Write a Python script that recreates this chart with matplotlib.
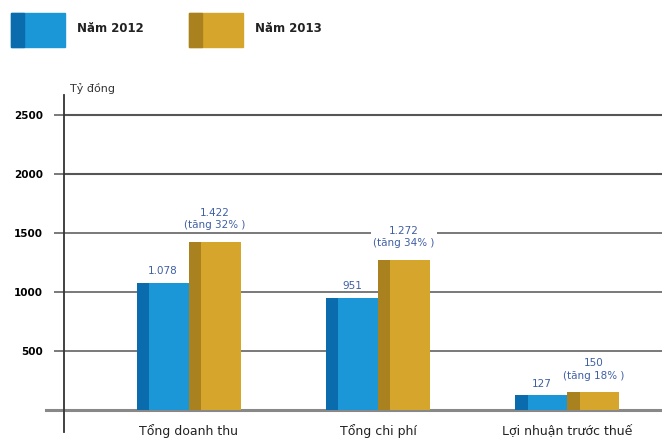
import matplotlib.pyplot as plt

# data
categories = ["Tổng doanh thu", "Tổng chi phí", "Lợi nhuận trước thuế"]
v2012 = [1078, 951, 127]
v2013 = [1422, 1272, 150]
lab2012 = ["1.078", "951", "127"]
lab2013 = ["1.422\n(tăng 32% )", "1.272\n(tăng 34% )", "150\n(tăng 18% )"]
yticks = [500, 1000, 1500, 2000, 2500]

blue, blue_dark = "#1b96d6", "#0b6cad"
gold, gold_dark = "#d6a52c", "#a9821f"
lab_col = "#3f5fa3"

plt.rcParams['font.family'] = ['DejaVu Sans']

fig = plt.figure(figsize=(6.62, 4.40), dpi=100)
W, H = 662, 440
ax = fig.add_axes([64 / W, 1 - 432 / H, (662 - 64) / W, (432 - 95) / H])

x = [0, 1, 2]
w = 0.275
stripe = 0.065
xa = [i - w / 2 for i in x]
xb = [i + w / 2 for i in x]
ax.bar(xa, v2012, width=w, color=blue, zorder=3)
ax.bar([p - w / 2 + stripe / 2 for p in xa], v2012, width=stripe, color=blue_dark, zorder=4)
ax.bar(xb, v2013, width=w, color=gold, zorder=3)
ax.bar([p - w / 2 + stripe / 2 for p in xb], v2013, width=stripe, color=gold_dark, zorder=4)

box = dict(facecolor='white', edgecolor='none', pad=1.5)
for i in x:
    ax.text(xa[i], v2012[i] + 55, lab2012[i], ha='center', va='bottom',
            fontsize=7.5, color=lab_col, zorder=5)
    ax.text(xb[i], v2013[i] + 100, lab2013[i], ha='center', va='bottom',
            fontsize=7.5, color=lab_col, linespacing=1.3, bbox=box, zorder=5)

ax.set_xlim(-0.66, 2.5)
ax.set_ylim(-186, 2669)

for t in yticks:
    ax.axhline(t, color="#555555", lw=1.5 if t >= 2000 else 1.1, zorder=1)
ax.axhline(0, xmin=-0.03, color="#888888", lw=2.2, zorder=2, clip_on=False)

ax.set_yticks(yticks)
ax.set_yticklabels([str(t) for t in yticks], fontweight='bold', fontsize=7.5)
ax.tick_params(axis='y', length=7, width=1.1, color="#555555", pad=8)
ax.set_xticks(x)
ax.set_xticklabels(categories, fontsize=9, color="#222222")
ax.tick_params(axis='x', length=0, pad=-6)

for s in ['top', 'right', 'bottom']:
    ax.spines[s].set_visible(False)
ax.spines['left'].set_linewidth(1.3)
ax.spines['left'].set_color("#333333")

fig.text(70 / W, 1 - 88 / H, "Tỷ đồng", fontsize=8, va='center', color="#333333")

# legend
fig.patches.append(plt.Rectangle((11 / W, 1 - 47 / H), 54 / W, 34 / H,
                                 transform=fig.transFigure, color=blue))
fig.patches.append(plt.Rectangle((11 / W, 1 - 47 / H), 13 / W, 34 / H,
                                 transform=fig.transFigure, color=blue_dark))
fig.patches.append(plt.Rectangle((189 / W, 1 - 47 / H), 54 / W, 34 / H,
                                 transform=fig.transFigure, color=gold))
fig.patches.append(plt.Rectangle((189 / W, 1 - 47 / H), 13 / W, 34 / H,
                                 transform=fig.transFigure, color=gold_dark))
fig.text(77 / W, 1 - 29 / H, "Năm 2012", fontsize=8.5, fontweight='bold', va='center', color="#222222")
fig.text(255 / W, 1 - 29 / H, "Năm 2013", fontsize=8.5, fontweight='bold', va='center', color="#222222")

fig.savefig("out.png", dpi=100)
